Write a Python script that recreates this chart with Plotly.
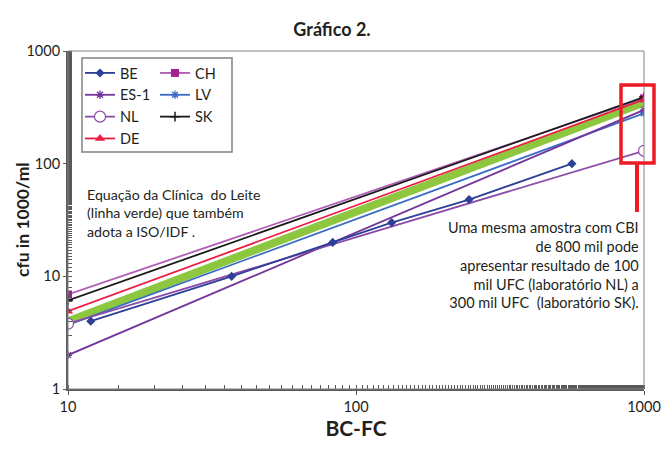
import plotly.graph_objects as go

# ---- data ----
be_x = [12, 37, 83, 133, 247, 562]
be_y = [4, 10, 20, 30, 48, 100]
ch_x = [10, 1000]
ch_y = [6.9, 380]
es1_x = [10, 1000]
es1_y = [2.0, 300]
lv_x = [10, 1000]
lv_y = [3.7, 280]
nl_x = [10, 1000]
nl_y = [3.8, 130]
sk_x = [10, 1000]
sk_y = [6.1, 390]
de_x = [10, 1000]
de_y = [4.9, 370]
green_x = [10, 1000]
green_y = [4.0, 350]

x_ticks = [10, 100, 1000]
y_ticks = [1, 10, 100, 1000]

FONT = "Lato"
TXT = "#231F20"

fig = go.Figure()

def add(name, xs, ys, color, symbol, msize, legend, lw=1.8, mline=None, mfill=None):
    marker = dict(symbol=symbol, size=msize, color=mfill if mfill else color)
    if mline:
        marker["line"] = dict(color=color, width=mline)
    fig.add_trace(go.Scatter(
        x=xs, y=ys, name=name, mode="lines+markers",
        line=dict(color=color, width=lw), marker=marker,
        legend=legend, legendgroup=name))

# green reference line (not in legend)
fig.add_trace(go.Scatter(x=green_x, y=green_y, mode="lines",
                         line=dict(color="#8DC63F", width=8),
                         showlegend=False, hoverinfo="skip"))

add("CH", ch_x, ch_y, "#B05CB8", "square", 8, "legend2", mfill="#A3238E")
add("SK", sk_x, sk_y, "#1A1A1A", "cross-thin-open", 7, "legend2", mline=1.5)
add("DE", de_x, de_y, "#ED1C45", "triangle-up", 9, "legend")
add("LV", lv_x, lv_y, "#3A6CC6", "asterisk-open", 7, "legend2", mline=1.3)
add("ES-1", es1_x, es1_y, "#74369A", "asterisk-open", 7, "legend", mline=1.3)
add("NL", nl_x, nl_y, "#8B4CA8", "circle", 11, "legend", mline=1.2, mfill="white")
add("BE", be_x, be_y, "#2E3F96", "diamond", 7, "legend")

rank = {"BE": 1, "ES-1": 2, "NL": 3, "DE": 4, "CH": 1, "LV": 2, "SK": 3}
for t in fig.data:
    if t.name in rank:
        t.legendrank = rank[t.name]

W, H = 664, 449
L, R, T, B = 68, 20, 51, 60
pw, ph = W - L - R, H - T - B

def px_x(p):
    return (p - L) / pw

def px_y(p):
    return 1 - (p - T) / ph

legend_common = dict(
    font=dict(family=FONT, size=14.5, color=TXT),
    bgcolor="rgba(0,0,0,0)", borderwidth=0,
    traceorder="grouped", tracegroupgap=0,
    xanchor="left", yanchor="top", itemwidth=30,
)

fig.update_layout(
    width=W, height=H,
    margin=dict(l=L, r=R, t=T, b=B, autoexpand=False),
    paper_bgcolor="white", plot_bgcolor="white",
    font=dict(family=FONT, color=TXT),
    title=dict(text="<b>Gráfico 2.</b>", x=0.5, xanchor="center",
               y=1 - 30 / H, yanchor="middle", automargin=False,
               font=dict(family=FONT, size=18, color=TXT)),
    legend=dict(x=px_x(80), y=px_y(57), **legend_common),
    legend2=dict(x=px_x(155), y=px_y(57), **legend_common),
    xaxis=dict(type="log", range=[1, 3], tickvals=x_ticks,
               ticktext=[str(v) for v in x_ticks], automargin=False,
               showgrid=False, zeroline=False,
               showline=True, linecolor="#58595B", linewidth=2,
               ticks="outside", ticklen=4, tickcolor="#58595B",
               minor=dict(ticks="inside", ticklen=4, tickcolor="#58595B", showgrid=False),
               tickfont=dict(family=FONT, size=14.5, color=TXT),
               title=dict(text="<b>BC-FC</b>", standoff=7,
                          font=dict(family=FONT, size=21, color=TXT))),
    yaxis=dict(type="log", range=[0, 3], tickvals=y_ticks,
               ticktext=[str(v) for v in y_ticks], automargin=False,
               showgrid=False, zeroline=False,
               showline=True, linecolor="#58595B", linewidth=2,
               ticks="outside", ticklen=3, tickcolor="#58595B",
               minor=dict(ticks="inside", ticklen=4, tickcolor="#58595B", showgrid=False),
               tickfont=dict(family=FONT, size=14.5, color=TXT)),
    showlegend=True,
)

# y-axis title
fig.add_annotation(xref="paper", yref="paper", x=px_x(22), y=0.5,
                   xanchor="center", yanchor="middle", textangle=-90, showarrow=False,
                   text="<b>cfu in 1000/ml</b>",
                   font=dict(family=FONT, size=17.5, color=TXT))

fig.add_shape(type="rect", xref="paper", yref="paper", x0=0, y0=0, x1=1, y1=1,
              line=dict(color="#808285", width=1), layer="above")
fig.add_shape(type="rect", xref="paper", yref="paper",
              x0=px_x(82), x1=px_x(232), y0=px_y(152), y1=px_y(58),
              line=dict(color="#808285", width=1.5), layer="above")
fig.add_shape(type="rect", xref="paper", yref="paper",
              x0=px_x(621), x1=px_x(654), y0=px_y(163), y1=px_y(85),
              line=dict(color="#ED1C24", width=3.5), layer="above")
fig.add_shape(type="line", xref="paper", yref="paper",
              x0=px_x(637), x1=px_x(637), y0=px_y(212), y1=px_y(163),
              line=dict(color="#ED1C24", width=4), layer="above")

fig.add_annotation(xref="paper", yref="paper", x=px_x(85), y=px_y(213),
                   xanchor="left", yanchor="middle", align="left", showarrow=False,
                   text="Equação da Clínica  do Leite<br>(linha verde) que também<br>adota a ISO/IDF .",
                   font=dict(family=FONT, size=14.2, color=TXT))
fig.add_annotation(xref="paper", yref="paper", x=px_x(641), y=px_y(265),
                   xanchor="right", yanchor="middle", align="right", showarrow=False,
                   text=("Uma mesma amostra com CBI<br>de 800 mil pode<br>"
                         "apresentar resultado de 100<br>mil UFC (laboratório NL) a<br>"
                         "300 mil UFC  (laboratório SK)."),
                   font=dict(family=FONT, size=14.5, color=TXT))

fig.write_html("out.html")
